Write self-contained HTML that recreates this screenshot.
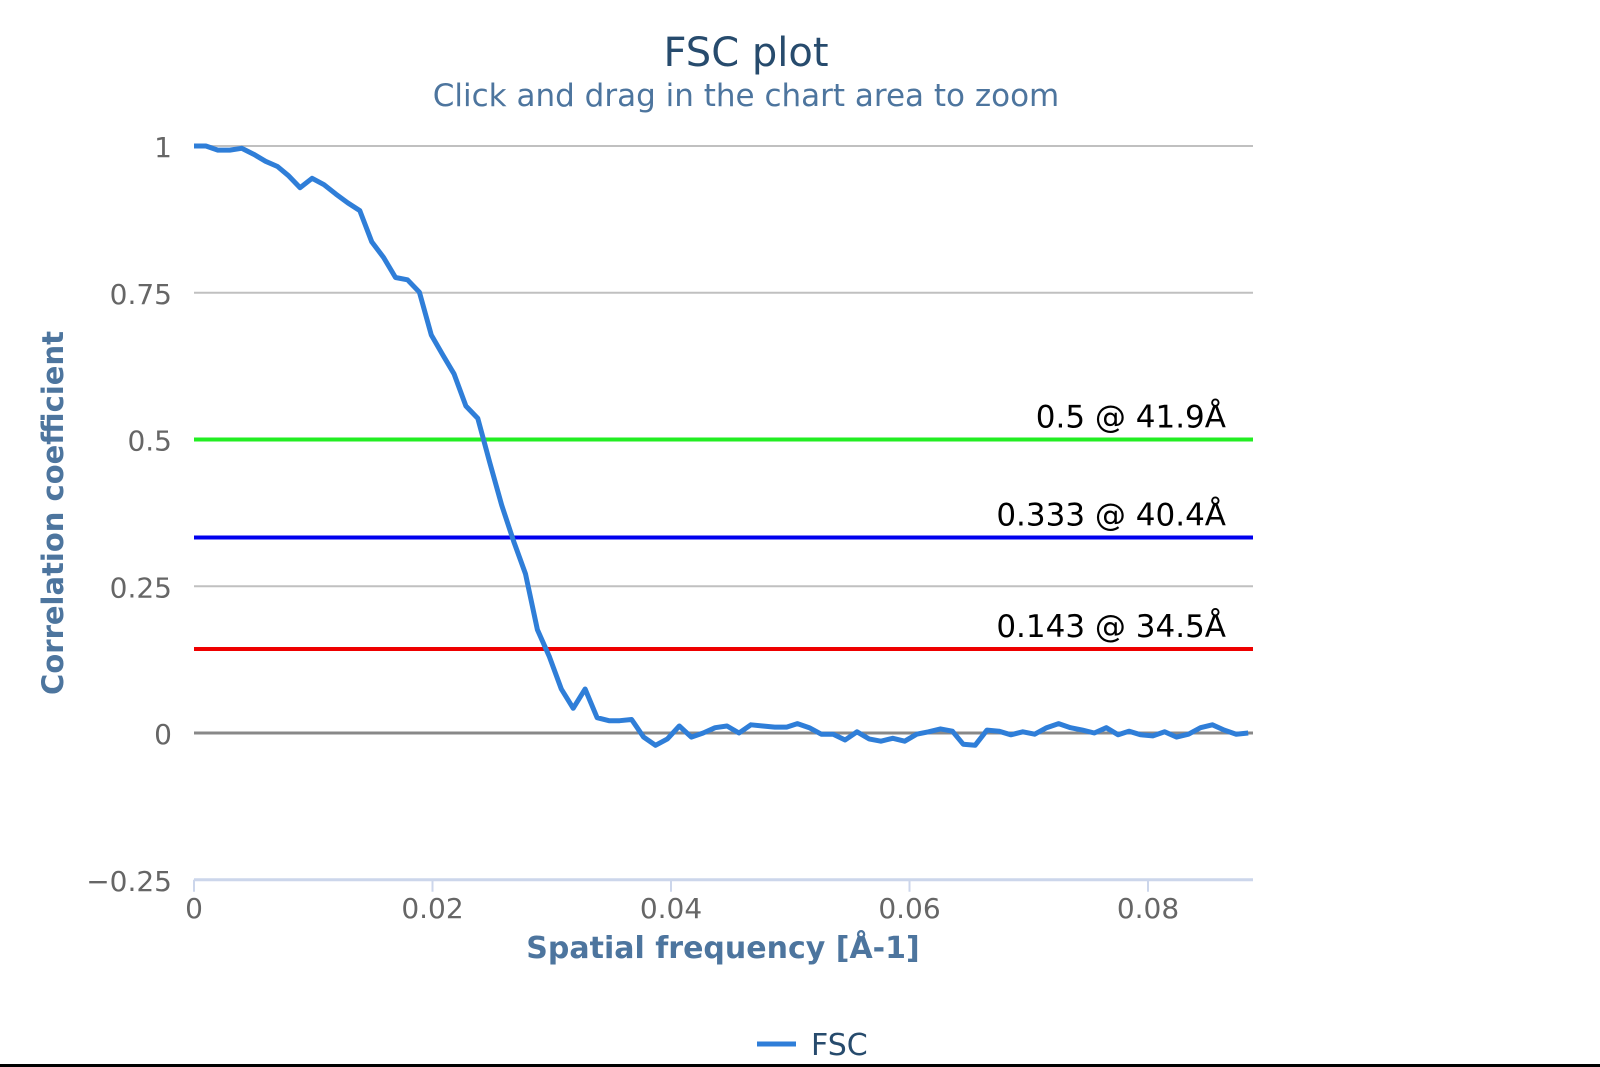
<!DOCTYPE html>
<html><head><meta charset="utf-8"><style>
html,body{margin:0;padding:0;background:#fff;}
svg{display:block;font-family:"DejaVu Sans","Liberation Sans",sans-serif;}
</style></head><body>
<svg id="chart" width="1600" height="1067" viewBox="0 0 1600 1067">
<text x="746" y="66" text-anchor="middle" font-size="40" fill="#274b6d">FSC plot</text>
<text x="746" y="106" text-anchor="middle" font-size="31" fill="#4d759e">Click and drag in the chart area to zoom</text>
<g id="grid"></g>
<g id="thresholds"></g>
<g id="series"></g>
<g id="axes"></g>
<text transform="translate(63,513) rotate(-90)" text-anchor="middle" font-size="29" font-weight="bold" fill="#4d759e">Correlation coefficient</text>
<text x="723" y="958" text-anchor="middle" font-size="30" font-weight="bold" fill="#4d759e">Spatial frequency [Å-1]</text>
<g>
<line x1="757" y1="1044" x2="796" y2="1044" stroke="#2f7ed8" stroke-width="5"/>
<text x="811" y="1055" font-size="30" fill="#274b6d">FSC</text>
</g>
<rect x="0" y="1064" width="1600" height="3" fill="#000"/>
</svg>
<script>
const freq=[0,0.0010,0.0020,0.0030,0.0040,0.0050,0.0060,0.0070,0.0079,0.0089,0.0099,0.0109,0.0119,0.0129,0.0139,0.0149,0.0159,0.0169,0.0179,0.0189,0.0199,0.0209,0.0218,0.0228,0.0238,0.0248,0.0258,0.0268,0.0278,0.0288,0.0298,0.0308,0.0318,0.0328,0.0338,0.0348,0.0357,0.0367,0.0377,0.0387,0.0397,0.0407,0.0417,0.0427,0.0437,0.0447,0.0457,0.0467,0.0477,0.0487,0.0497,0.0506,0.0516,0.0526,0.0536,0.0546,0.0556,0.0566,0.0576,0.0586,0.0596,0.0606,0.0616,0.0626,0.0636,0.0645,0.0655,0.0665,0.0675,0.0685,0.0695,0.0705,0.0715,0.0725,0.0735,0.0745,0.0755,0.0765,0.0775,0.0784,0.0794,0.0804,0.0814,0.0824,0.0834,0.0844,0.0854,0.0864,0.0874,0.0884];
const fsc=[1.0,1.0,0.993,0.993,0.996,0.986,0.974,0.965,0.95,0.929,0.945,0.934,0.918,0.903,0.89,0.837,0.81,0.776,0.772,0.751,0.678,0.643,0.612,0.557,0.536,0.461,0.388,0.327,0.271,0.176,0.13,0.075,0.042,0.075,0.026,0.021,0.021,0.023,-0.007,-0.021,-0.01,0.012,-0.007,0,0.009,0.012,0,0.014,0.012,0.01,0.01,0.016,0.009,-0.002,-0.002,-0.012,0.002,-0.01,-0.014,-0.009,-0.014,-0.002,0.002,0.007,0.003,-0.019,-0.021,0.005,0.003,-0.003,0.002,-0.002,0.009,0.016,0.009,0.005,0,0.009,-0.003,0.003,-0.003,-0.005,0.002,-0.007,-0.002,0.009,0.014,0.005,-0.002,0];
const yTicks=[1,0.75,0.5,0.25,0,-0.25];
const yTickLabels=["1","0.75","0.5","0.25","0","−0.25"];
const xTicks=[0,0.02,0.04,0.06,0.08];
const xTickLabels=["0","0.02","0.04","0.06","0.08"];
const thresholdValues=[0.5,0.333,0.143];
const thresholdLabels=["0.5 @ 41.9Å","0.333 @ 40.4Å","0.143 @ 34.5Å"];
const thresholdColors=["#22ee22","#0000ee","#ee0000"];

const L=194,R=1253,Y0=733,PX=11925,PY=587;
const sx=v=>L+v*PX, sy=v=>Y0-v*PY;
const NS='http://www.w3.org/2000/svg';
function mk(tag,attrs,parent,txt){const e=document.createElementNS(NS,tag);for(const k in attrs)e.setAttribute(k,attrs[k]);if(txt!==undefined)e.textContent=txt;parent.appendChild(e);return e;}
const grid=document.getElementById('grid'),axes=document.getElementById('axes'),th=document.getElementById('thresholds'),ser=document.getElementById('series');
yTicks.forEach((v,i)=>{
  if(v!==-0.25){const g=mk('line',{x1:L,x2:R,y1:sy(v),y2:sy(v),stroke:v===0?'#888':'#c0c0c0','stroke-width':v===0?3:2},grid);
  
  }
  const t=mk('text',{x:172,y:sy(v)+11,'text-anchor':'end','font-size':28,fill:'#666'},axes,yTickLabels[i]);
  
  
});
const ax=mk('line',{x1:L,x2:R,y1:sy(-0.25),y2:sy(-0.25),stroke:'#ccd6eb','stroke-width':3},axes);


xTicks.forEach((v,i)=>{
  const tk=mk('line',{x1:sx(v),x2:sx(v),y1:sy(-0.25),y2:sy(-0.25)+12,stroke:'#ccd6eb','stroke-width':2},axes);
  
  
  const t=mk('text',{x:sx(v),y:918,'text-anchor':'middle','font-size':28,fill:'#666'},axes,xTickLabels[i]);
  
  
});
thresholdValues.forEach((v,i)=>{
  const l=mk('line',{x1:L,x2:R,y1:sy(v),y2:sy(v),stroke:thresholdColors[i],'stroke-width':4},th);
  
  
  const t=mk('text',{x:1226,y:sy(v)-12,'text-anchor':'end','font-size':31,fill:'#000'},th,thresholdLabels[i]);
  
  
});
const n=Math.min(freq.length,fsc.length);
let d='';for(let i=0;i<n;i++)d+=(i?'L':'M')+sx(freq[i]).toFixed(1)+','+sy(fsc[i]).toFixed(1);
const p=mk('path',{d:d,fill:'none',stroke:'#2f7ed8','stroke-width':5,'stroke-linejoin':'round'},ser);


</script>
</body></html>
